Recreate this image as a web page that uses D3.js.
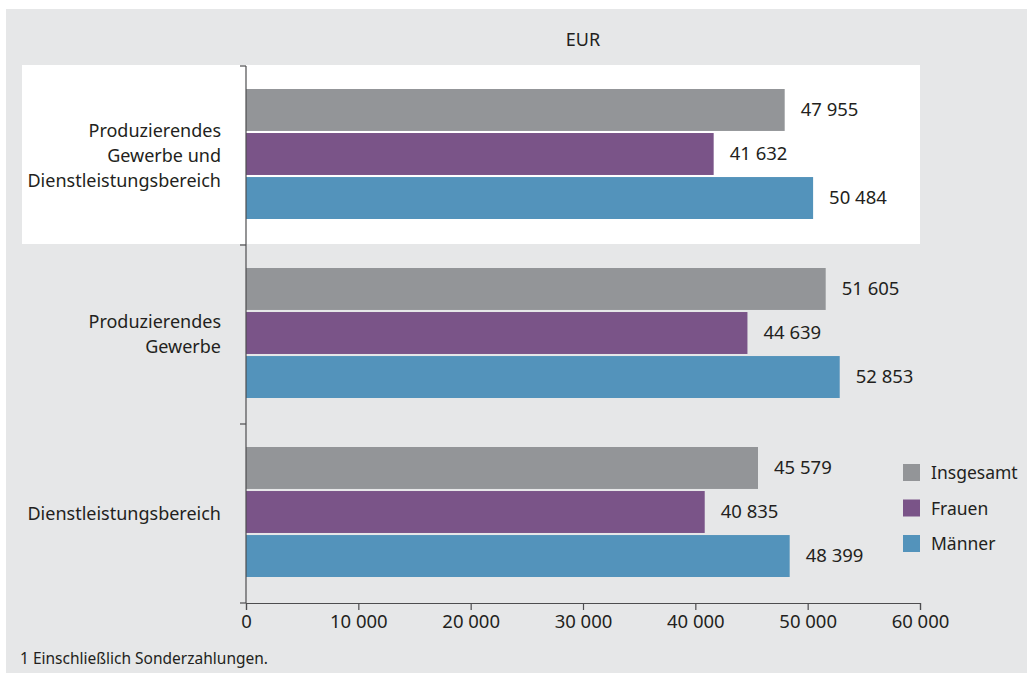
<!DOCTYPE html>
<html>
<head>
<meta charset="utf-8">
<script src="https://cdn.jsdelivr.net/npm/d3@7"></script>
<style>
  body { margin: 0; background: #ffffff; }
  svg { display: block; font-family: "Noto Sans", sans-serif; }
</style>
</head>
<body>
<div id="chart"></div>
<script>
const categories = [
    ["Produzierendes", "Gewerbe und", "Dienstleistungsbereich"],
    ["Produzierendes", "Gewerbe"],
    ["Dienstleistungsbereich"]
];
const series_names = ["Insgesamt", "Frauen", "Männer"];
const insgesamt = [47955, 51605, 45579];
const frauen = [41632, 44639, 40835];
const maenner = [50484, 52853, 48399];
const x_ticks = [0, 10000, 20000, 30000, 40000, 50000, 60000];

const chart_width = 1027;
const chart_height = 675;
const colors = ["#939598", "#7a5488", "#5393bb"];
const text_color = "#231f20";

const locale = d3.formatLocale({decimal: ",", thousands: " ", grouping: [3], currency: ["", " €"]});
const num_format = locale.format(",d");

const series = [insgesamt, frauen, maenner];
const data = categories.map((c, i) => ({
    key: i,
    lines: c,
    values: series.map((s, j) => ({name: series_names[j], value: s[i]}))
}));

const svg = d3.create("svg")
    .attr("width", chart_width)
    .attr("height", chart_height);

// panel background
svg.append("rect")
    .attr("x", 6).attr("y", 9)
    .attr("width", chart_width - 6).attr("height", 664)
    .attr("fill", "#e6e7e8");

const x = d3.scaleLinear().domain([0, 60000]).range([246, 920]);
const y = d3.scaleBand().domain(data.map(d => d.key)).range([66, 603]);
const y_inner = d3.scaleBand().domain(series_names).range([23, 153]).paddingInner(0.047);

// highlight box behind first group
svg.append("rect")
    .attr("x", 22).attr("y", y(0) - 1)
    .attr("width", 920 - 22).attr("height", y.bandwidth())
    .attr("fill", "#ffffff");

svg.append("text")
    .attr("x", (x.range()[0] + x.range()[1]) / 2)
    .attr("y", 46)
    .attr("text-anchor", "middle")
    .attr("font-size", 18)
    .attr("fill", text_color)
    .text("EUR");

const group = svg.append("g")
    .selectAll("g")
    .data(data)
    .join("g")
    .attr("transform", d => `translate(0,${y(d.key)})`);

group.selectAll("rect")
    .data(d => d.values)
    .join("rect")
    .attr("x", x(0))
    .attr("y", d => y_inner(d.name))
    .attr("width", d => x(d.value) - x(0))
    .attr("height", y_inner.bandwidth())
    .attr("fill", (d, i) => colors[i]);

group.selectAll("text.value")
    .data(d => d.values)
    .join("text")
    .attr("class", "value")
    .attr("x", d => x(d.value) + 16)
    .attr("y", d => y_inner(d.name) + y_inner.bandwidth() / 2)
    .attr("dy", "0.35em")
    .attr("font-size", 18.5)
    .attr("fill", text_color)
    .text(d => num_format(d.value));

group.append("text")
    .attr("text-anchor", "end")
    .attr("font-size", 18)
    .attr("fill", text_color)
    .selectAll("tspan")
    .data(d => d.lines.map((l, i) => ({l, i, n: d.lines.length})))
    .join("tspan")
    .attr("x", 221)
    .attr("y", d => y.bandwidth() / 2 + (d.i - (d.n - 1) / 2) * 25)
    .attr("dy", "0.35em")
    .text(d => d.l);

// y axis
const y_axis = svg.append("g");
y_axis.append("line")
    .attr("x1", x(0)).attr("x2", x(0))
    .attr("y1", y.range()[0]).attr("y2", y.range()[1])
    .attr("stroke", "#4d4d4f").attr("stroke-width", 1.2);
y_axis.selectAll("line.tick")
    .data(d3.range(data.length + 1))
    .join("line")
    .attr("class", "tick")
    .attr("x1", x(0) - 6).attr("x2", x(0))
    .attr("y1", i => y.range()[0] + i * y.step())
    .attr("y2", i => y.range()[0] + i * y.step())
    .attr("stroke", "#4d4d4f").attr("stroke-width", 1.2);

// x axis
const x_axis = svg.append("g")
    .attr("transform", `translate(0,${y.range()[1]})`)
    .call(d3.axisBottom(x).tickValues(x_ticks).tickFormat(num_format).tickSize(7).tickPadding(5));
x_axis.select(".domain").attr("stroke", "#4d4d4f").attr("stroke-width", 1.2);
x_axis.selectAll(".tick line").attr("stroke", "#4d4d4f").attr("stroke-width", 1.2);
x_axis.selectAll(".tick text")
    .attr("font-size", 18.5)
    .attr("font-family", "Noto Sans, sans-serif")
    .attr("fill", text_color);

// legend
const legend = svg.append("g")
    .selectAll("g")
    .data(series_names)
    .join("g")
    .attr("transform", (d, i) => `translate(903,${464 + i * 35.5})`);
legend.append("rect")
    .attr("width", 17).attr("height", 17)
    .attr("fill", (d, i) => colors[i]);
legend.append("text")
    .attr("x", 28).attr("y", 9)
    .attr("dy", "0.35em")
    .attr("font-size", 17.5)
    .attr("fill", text_color)
    .text(d => d);

svg.append("text")
    .attr("x", 20).attr("y", 664)
    .attr("font-size", 15.5)
    .attr("fill", text_color)
    .text("1 Einschließlich Sonderzahlungen.");

document.getElementById("chart").append(svg.node());
</script>
</body>
</html>
